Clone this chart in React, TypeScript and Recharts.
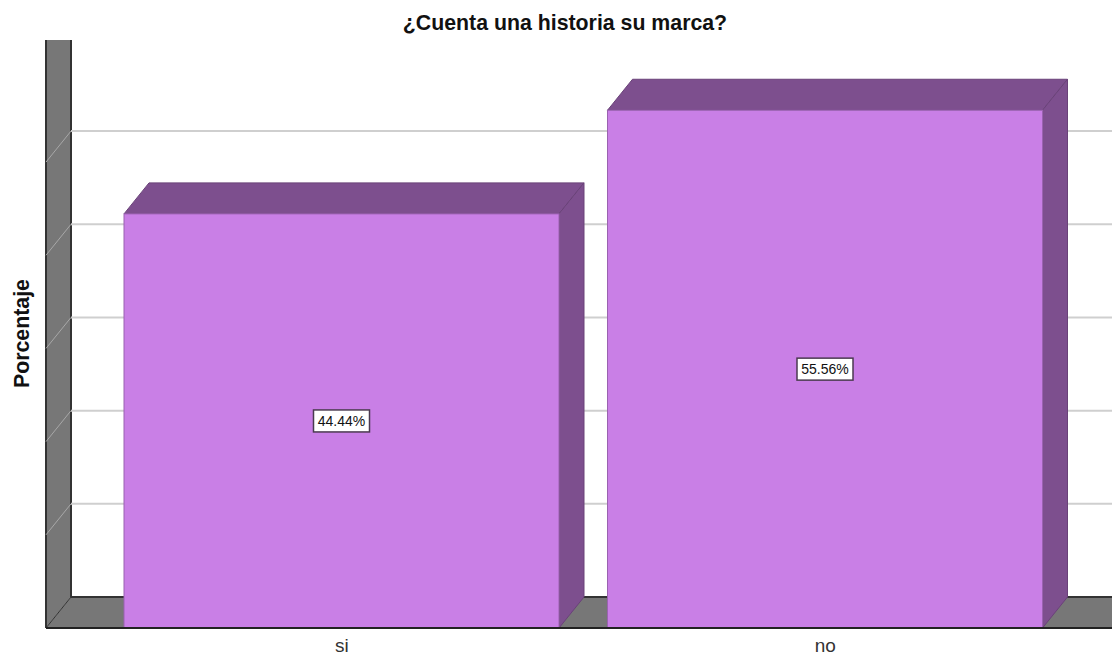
import { BarChart, Bar, XAxis, YAxis, ReferenceLine, LabelList } from 'recharts';

const categories = ['si', 'no'];
const percentages = [44.44, 55.56];
const gridTicks = [10, 20, 30, 40, 50];

const chartData = categories.map((name, i) => ({ name, value: percentages[i] }));

// Fake 3D depth, in pixels
const DX = 25;
const DY = 31;
const PLOT_TOP = 40;

const WALL = '#777777';
const EDGE = '#333333';
const FRONT = '#C97FE6';
const SHADE = '#7D4F8E';
const GRID = '#CFCFCF';

// Left wall and floor of the 3D box, hung off the zero line
const Walls = ({ x1, x2, y1 }: any) => {
  const top = PLOT_TOP;
  return (
    <g>
      <polygon points={`${x1},${y1} ${x1 + DX},${y1 - DY} ${x2},${y1 - DY} ${x2},${y1}`} fill={WALL} />
      <polygon points={`${x1},${top} ${x1 + DX},${top} ${x1 + DX},${y1 - DY} ${x1},${y1}`} fill={WALL} />
      <line x1={x1} y1={top} x2={x1} y2={y1} stroke={EDGE} strokeWidth={2} />
      <line x1={x1 + DX} y1={top} x2={x1 + DX} y2={y1 - DY} stroke={EDGE} strokeWidth={2} />
      <line x1={x1 + DX} y1={y1 - DY} x2={x2} y2={y1 - DY} stroke={EDGE} strokeWidth={2} />
      <line x1={x1} y1={y1} x2={x1 + DX} y2={y1 - DY} stroke={EDGE} strokeWidth={1} />
    </g>
  );
};

// Gridline on the back wall plus its diagonal on the side wall
const GridLine = ({ x1, y1, x2 }: any) => (
  <g>
    <line x1={x1 + DX} y1={y1 - DY} x2={x2} y2={y1 - DY} stroke={GRID} strokeWidth={2} />
    <line x1={x1} y1={y1} x2={x1 + DX} y2={y1 - DY} stroke="#A8A8A8" strokeWidth={1} />
  </g>
);

const Bar3D = ({ x, y, width, height }: any) => {
  const r = x + width;
  const b = y + height;
  return (
    <g>
      <polygon points={`${x},${y} ${x + DX},${y - DY} ${r + DX},${y - DY} ${r},${y}`} fill={SHADE} stroke="#6A4279" strokeWidth={1} />
      <polygon points={`${r},${y} ${r + DX},${y - DY} ${r + DX},${b - DY} ${r},${b}`} fill={SHADE} stroke="#6A4279" strokeWidth={1} />
      <rect x={x} y={y} width={width} height={height} fill={FRONT} stroke="#9A62B0" strokeWidth={1} />
    </g>
  );
};

const ValueBox = ({ x, y, width, height, value }: any) => {
  const cx = x + width / 2;
  const cy = y + height / 2;
  return (
    <g>
      <rect x={cx - 28} y={cy - 11} width={56} height={22} fill="#fff" stroke="#4A3A50" strokeWidth={1.5} />
      <text x={cx} y={cy + 5} textAnchor="middle" fontFamily="Liberation Sans" fontSize={14} fill="#111">
        {`${value.toFixed(2)}%`}
      </text>
    </g>
  );
};

export default function App() {
  return (
    <div style={{ position: 'absolute', left: 0, top: 0, width: 1112, height: 657, background: '#fff' }}>
      <div
        style={{
          position: 'absolute',
          left: 0,
          width: 1130,
          top: 12,
          textAlign: 'center',
          fontFamily: 'Liberation Sans',
          fontWeight: 700,
          fontSize: 21.3,
          lineHeight: '23px',
          color: '#111',
          zIndex: 1,
        }}
      >
        ¿Cuenta una historia su marca?
      </div>
      <BarChart
        width={1112}
        height={657}
        data={chartData}
        margin={{ top: PLOT_TOP, right: 0, bottom: 0, left: 0 }}
        barSize={435}
      >
        <XAxis
          dataKey="name"
          height={29}
          axisLine={{ stroke: '#222', strokeWidth: 2 }}
          tickLine={false}
          padding={{ left: 54, right: 45 }}
          tick={{ fill: '#333', fontSize: 19, fontFamily: 'Liberation Sans' }}
          tickMargin={5}
        />
        <YAxis
          width={46}
          domain={[0, 63.1]}
          ticks={gridTicks}
          tick={false}
          tickLine={false}
          axisLine={false}
          label={{
            value: 'Porcentaje',
            angle: -90,
            position: 'insideLeft',
            dx: 16,
            dy: 54,
            fill: '#111',
            style: { fontFamily: 'Liberation Sans', fontWeight: 700, fontSize: 21.3 },
          }}
        />
        <ReferenceLine y={0} shape={<Walls />} ifOverflow="visible" zIndex={-10} />
        {gridTicks.map((t) => (
          <ReferenceLine key={t} y={t} shape={<GridLine />} ifOverflow="visible" zIndex={-5} />
        ))}
        <Bar dataKey="value" shape={<Bar3D />} isAnimationActive={false}>
          <LabelList dataKey="value" content={<ValueBox />} />
        </Bar>
      </BarChart>
    </div>
  );
}
